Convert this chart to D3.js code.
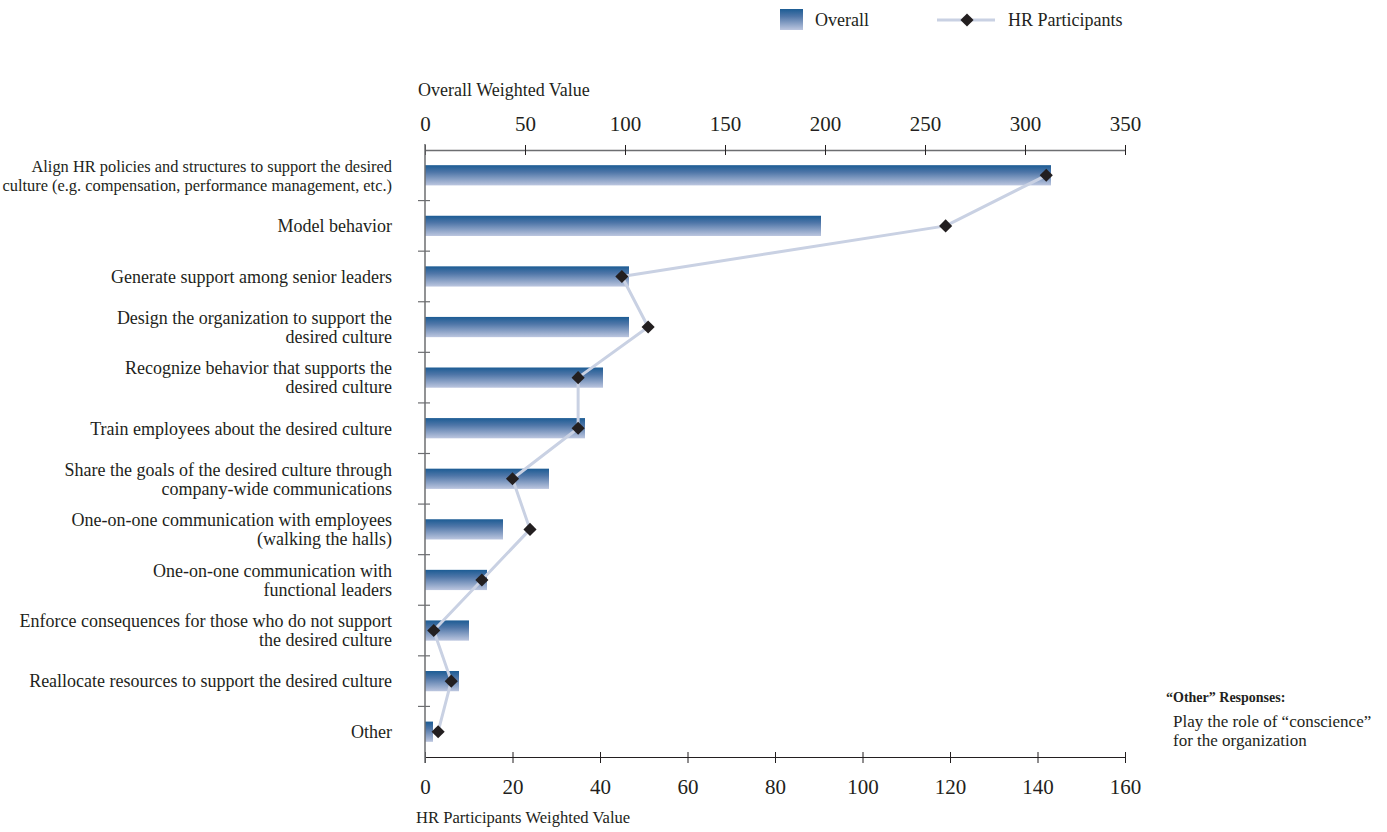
<!DOCTYPE html>
<html>
<head>
<meta charset="utf-8">
<script src="https://cdn.jsdelivr.net/npm/d3@7"></script>
<style>
  html, body { margin: 0; padding: 0; background: #fff; }
  svg text { font-family: "Liberation Serif", "DejaVu Serif", serif; fill: #231f20; }
</style>
</head>
<body>
<svg id="chart" width="1387" height="832"></svg>
<script>
// Actions, top to bottom (each entry is one label, split into lines)
const categories = [
  ["Align HR policies and structures to support the desired", "culture (e.g. compensation, performance management, etc.)"],
  ["Model behavior"],
  ["Generate support among senior leaders"],
  ["Design the organization to support the", "desired culture"],
  ["Recognize behavior that supports the", "desired culture"],
  ["Train employees about the desired culture"],
  ["Share the goals of the desired culture through", "company-wide communications"],
  ["One-on-one communication with employees", "(walking the halls)"],
  ["One-on-one communication with", "functional leaders"],
  ["Enforce consequences for those who do not support", "the desired culture"],
  ["Reallocate resources to support the desired culture"],
  ["Other"]
];
const overallValues = [313, 198, 102, 102, 89, 80, 62, 39, 31, 22, 17, 4];
const hrValues      = [142, 119, 45, 51, 35, 35, 20, 24, 13, 2, 6, 3];
const overallTicks  = [0, 50, 100, 150, 200, 250, 300, 350];
const hrTicks       = [0, 20, 40, 60, 80, 100, 120, 140, 160];
const otherResponses = ["Play the role of \u201cconscience\u201d", "for the organization"];

const svg = d3.select("#chart");
const plotL = 425, plotR = 1125, plotT = 150, plotB = 757;

const xOverall = d3.scaleLinear().domain([0, 350]).range([plotL, plotR]);
const xHR = d3.scaleLinear().domain([0, 160]).range([plotL, plotR]);
const y = d3.scaleBand().domain(d3.range(categories.length)).range([plotT, plotB]).padding(0);
const barH = y.bandwidth() * 0.4;

// Bar gradient: deep blue at the top fading to pale lavender
const defs = svg.append("defs");
const grad = defs.append("linearGradient").attr("id", "barGrad")
  .attr("x1", 0).attr("y1", 0).attr("x2", 0).attr("y2", 1);
grad.append("stop").attr("offset", "0%").attr("stop-color", "#1c5c94");
grad.append("stop").attr("offset", "35%").attr("stop-color", "#4f76a8");
grad.append("stop").attr("offset", "100%").attr("stop-color", "#bcc6df");

// Bars (Overall)
svg.append("g").selectAll("rect").data(overallValues).join("rect")
  .attr("x", xOverall(0))
  .attr("y", (d, i) => y(i) + (y.bandwidth() - barH) / 2)
  .attr("width", d => xOverall(d) - xOverall(0))
  .attr("height", barH)
  .attr("fill", "url(#barGrad)");

// Top axis (Overall)
const topAxis = svg.append("g").attr("transform", `translate(0,${plotT})`)
  .call(d3.axisTop(xOverall).tickValues(overallTicks).tickSize(6).tickSizeOuter(0).tickPadding(13));
topAxis.selectAll(".tick line").attr("y2", -5).attr("y1", 5);
topAxis.select(".domain").attr("stroke", "#6d6e71").attr("stroke-width", 1.5);
topAxis.selectAll(".tick line").attr("stroke", "#231f20");
topAxis.selectAll("text").style("font-size", "21px").attr("fill", "#231f20");

// Bottom axis (HR Participants)
const botAxis = svg.append("g").attr("transform", `translate(0,${plotB})`)
  .call(d3.axisBottom(xHR).tickValues(hrTicks).tickSize(6).tickSizeOuter(0).tickPadding(16));
botAxis.selectAll(".tick line").attr("y1", -5).attr("y2", 6);
botAxis.select(".domain").attr("stroke", "#231f20").attr("stroke-width", 1.2);
botAxis.selectAll(".tick line").attr("stroke", "#231f20");
botAxis.selectAll("text").style("font-size", "21px").attr("fill", "#231f20");

// Left axis with category separators
const catTicks = d3.range(1, categories.length).map(i => y(i));
const leftG = svg.append("g");
leftG.append("line").attr("x1", plotL).attr("x2", plotL).attr("y1", plotT - 6).attr("y2", plotB + 6)
  .attr("stroke", "#6d6e71").attr("stroke-width", 1.5);
leftG.selectAll("line.sep").data(catTicks).join("line").attr("class", "sep")
  .attr("x1", plotL - 7).attr("x2", plotL + 5).attr("y1", d => d).attr("y2", d => d)
  .attr("stroke", "#6d6e71").attr("stroke-width", 1.2);

// Category labels (the long first label is set a little smaller)
const lineH = 19;
const labels = svg.append("g").attr("text-anchor", "end");
categories.forEach((lines, i) => {
  const cy = y(i) + y.bandwidth() / 2;
  const t = labels.append("text").attr("x", 392)
    .attr("y", cy - (lines.length - 1) * lineH / 2)
    .style("font-size", i === 0 ? "16.4px" : "18px");
  lines.forEach((ln, k) => {
    t.append("tspan").attr("x", 392).attr("dy", k === 0 ? "0.35em" : lineH).text(ln);
  });
});

// HR Participants line + diamonds
const pts = hrValues.map((v, i) => [xHR(v), y(i) + y.bandwidth() / 2]);
svg.append("path").attr("d", d3.line()(pts))
  .attr("fill", "none").attr("stroke", "#c9d1e3").attr("stroke-width", 3).attr("stroke-linejoin", "round");
const diamond = d3.symbol().type(d3.symbolDiamond2).size(110);
svg.append("g").selectAll("path").data(pts).join("path")
  .attr("transform", d => `translate(${d[0]},${d[1]})`)
  .attr("d", diamond).attr("fill", "#231f20");

// Axis titles
svg.append("text").attr("x", 418).attr("y", 96).style("font-size", "18px").text("Overall Weighted Value");
svg.append("text").attr("x", 416).attr("y", 823).style("font-size", "16.6px").text("HR Participants Weighted Value");

// Legend
const lg = svg.append("g");
lg.append("rect").attr("x", 780).attr("y", 9).attr("width", 23).attr("height", 21).attr("fill", "url(#barGrad)");
lg.append("text").attr("x", 815).attr("y", 20).attr("dy", "0.35em").style("font-size", "18px").text("Overall");
lg.append("line").attr("x1", 937).attr("x2", 995).attr("y1", 20).attr("y2", 20)
  .attr("stroke", "#c9d1e3").attr("stroke-width", 3);
lg.append("path").attr("transform", "translate(967,20)").attr("d", diamond).attr("fill", "#231f20");
lg.append("text").attr("x", 1008).attr("y", 20).attr("dy", "0.35em").style("font-size", "18px").text("HR Participants");

// "Other" responses note
svg.append("text").attr("x", 1166).attr("y", 702).style("font-size", "14px").style("font-weight", "bold")
  .text("\u201cOther\u201d Responses:");
svg.append("g").selectAll("text").data(otherResponses).join("text")
  .attr("x", 1173).attr("y", (d, i) => 727 + i * 19).style("font-size", "17px").text(d => d);
</script>
</body>
</html>
